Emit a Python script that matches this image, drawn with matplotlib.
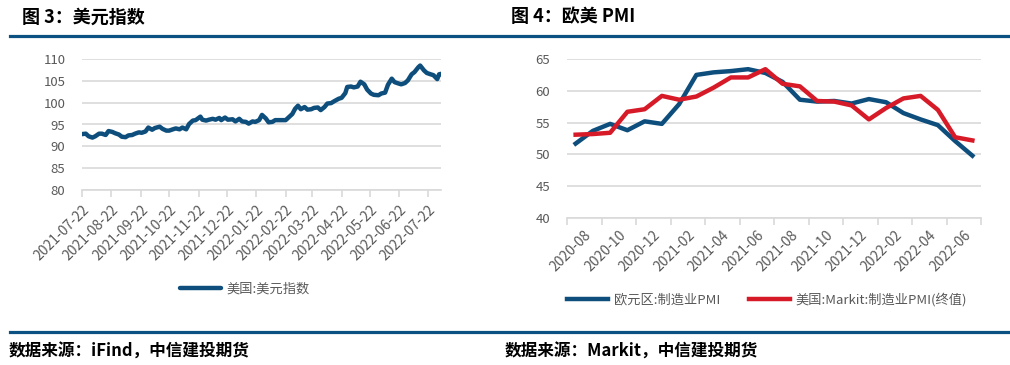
import matplotlib
matplotlib.use("Agg")
import matplotlib.pyplot as plt
from matplotlib.lines import Line2D
import pandas as pd

plt.rcParams['font.family'] = ['Noto Sans CJK SC', 'DejaVu Sans']
plt.rcParams['axes.unicode_minus'] = False

# ---- data: 美元指数 (left) ----
dxy_dates = [
    "2021-07-22", "2021-07-26", "2021-07-29", "2021-08-02", "2021-08-05", "2021-08-09",
    "2021-08-12", "2021-08-16", "2021-08-19", "2021-08-23", "2021-08-26", "2021-08-30",
    "2021-09-02", "2021-09-06", "2021-09-09", "2021-09-13", "2021-09-16", "2021-09-20",
    "2021-09-23", "2021-09-27", "2021-09-30", "2021-10-04", "2021-10-07", "2021-10-12",
    "2021-10-15", "2021-10-19", "2021-10-22", "2021-10-26", "2021-10-29", "2021-11-02",
    "2021-11-05", "2021-11-09", "2021-11-12", "2021-11-16", "2021-11-19", "2021-11-24",
    "2021-11-26", "2021-11-30", "2021-12-03", "2021-12-07", "2021-12-10", "2021-12-14",
    "2021-12-16", "2021-12-20", "2021-12-23", "2021-12-28", "2021-12-31", "2022-01-04",
    "2022-01-07", "2022-01-11", "2022-01-14", "2022-01-18", "2022-01-21", "2022-01-25",
    "2022-01-28", "2022-02-01", "2022-02-04", "2022-02-08", "2022-02-11", "2022-02-15",
    "2022-02-18", "2022-02-22", "2022-02-25", "2022-03-01", "2022-03-04", "2022-03-07",
    "2022-03-10", "2022-03-14", "2022-03-17", "2022-03-21", "2022-03-24", "2022-03-28",
    "2022-03-31", "2022-04-04", "2022-04-07", "2022-04-11", "2022-04-14", "2022-04-19",
    "2022-04-22", "2022-04-26", "2022-04-28", "2022-05-02", "2022-05-05", "2022-05-09",
    "2022-05-12", "2022-05-16", "2022-05-19", "2022-05-23", "2022-05-26", "2022-05-31",
    "2022-06-03", "2022-06-07", "2022-06-10", "2022-06-14", "2022-06-17", "2022-06-21",
    "2022-06-24", "2022-06-28", "2022-07-01", "2022-07-05", "2022-07-08", "2022-07-12",
    "2022-07-14", "2022-07-18", "2022-07-21", "2022-07-25", "2022-07-28", "2022-08-01",
    "2022-08-03", "2022-08-05",
]
dxy_values = [
    92.8, 92.9, 92.3, 92.0, 92.3, 92.9,
    92.9, 92.6, 93.5, 93.3, 93.0, 92.7,
    92.2, 92.1, 92.5, 92.6, 92.9, 93.2,
    93.1, 93.4, 94.3, 93.8, 94.2, 94.5,
    94.0, 93.6, 93.6, 93.9, 94.1, 93.9,
    94.3, 93.9, 95.1, 95.9, 96.0, 96.8,
    96.1, 95.9, 96.1, 96.3, 96.1, 96.5,
    96.0, 96.6, 96.1, 96.2, 95.7, 96.3,
    95.7, 95.6, 95.2, 95.7, 95.6, 96.0,
    97.2, 96.4, 95.5, 95.6, 96.0, 96.0,
    96.0, 96.0, 96.6, 97.4, 98.6, 99.3,
    98.5, 99.0, 98.4, 98.5, 98.8, 98.9,
    98.3, 99.0, 99.8, 99.9, 100.3, 100.9,
    101.1, 102.2, 103.6, 103.7, 103.5, 103.7,
    104.8, 104.2, 103.0, 102.1, 101.8, 101.7,
    102.1, 102.3, 104.1, 105.5, 104.7, 104.4,
    104.2, 104.5, 105.1, 106.5, 107.0, 108.1,
    108.5, 107.4, 106.8, 106.5, 106.3, 105.4,
    106.5, 106.6,
]
dxy_ticks = ["2021-07-22", "2021-08-22", "2021-09-22", "2021-10-22", "2021-11-22",
             "2021-12-22", "2022-01-22", "2022-02-22", "2022-03-22", "2022-04-22",
             "2022-05-22", "2022-06-22", "2022-07-22"]

# ---- data: 欧美 PMI (right) ----
pmi_months = ["2020-08", "2020-09", "2020-10", "2020-11", "2020-12", "2021-01",
              "2021-02", "2021-03", "2021-04", "2021-05", "2021-06", "2021-07",
              "2021-08", "2021-09", "2021-10", "2021-11", "2021-12", "2022-01",
              "2022-02", "2022-03", "2022-04", "2022-05", "2022-06", "2022-07"]
ez_pmi = [51.7, 53.7, 54.8, 53.8, 55.2, 54.8, 57.9, 62.5, 62.9, 63.1, 63.4, 62.8,
          61.4, 58.6, 58.3, 58.4, 58.0, 58.7, 58.2, 56.5, 55.5, 54.6, 52.1, 49.8]
us_pmi = [53.1, 53.2, 53.4, 56.7, 57.1, 59.2, 58.6, 59.1, 60.5, 62.1, 62.1, 63.4,
          61.1, 60.7, 58.4, 58.3, 57.7, 55.5, 57.3, 58.8, 59.2, 57.0, 52.7, 52.2]

BLUE = '#0E4E7C'
RED = '#D71A28'
GRID = '#D9D9D9'
TXT = '#595959'
BAR = '#0B5283'

W, H = 1010, 365
fig = plt.figure(figsize=(W / 100, H / 100), dpi=100)


def fx(px):
    return px / W


def fy(py):
    return 1 - py / H


# headers and footers
fig.add_artist(Line2D([fx(10), fx(1008)], [fy(36.3)] * 2, color=BAR, lw=2.3))
fig.add_artist(Line2D([fx(10), fx(1008)], [fy(331.5)] * 2, color=BAR, lw=2.3))
fig.text(fx(22), fy(17), '图 3：美元指数', fontsize=13, fontweight='bold', va='center', ha='left')
fig.text(fx(511), fy(17), '图 4：欧美 PMI', fontsize=13, fontweight='bold', va='center', ha='left')
fig.text(fx(9), fy(352), '数据来源：iFind，中信建投期货', fontsize=12, fontweight='bold',
         va='center', ha='left')
fig.text(fx(505), fy(352), '数据来源：Markit，中信建投期货', fontsize=12, fontweight='bold',
         va='center', ha='left')


def style_axes(ax):
    for s in ['top', 'right', 'left']:
        ax.spines[s].set_visible(False)
    ax.spines['bottom'].set_color(GRID)
    ax.spines['bottom'].set_linewidth(1.2)
    ax.grid(axis='y', color=GRID, lw=1.2)
    ax.set_axisbelow(True)
    ax.tick_params(axis='y', length=0, labelsize=9.5, labelcolor=TXT, pad=12)
    ax.tick_params(axis='x', which='major', length=5, width=1.2, color=GRID,
                   labelsize=10, labelcolor=TXT)


# ---- left chart ----
ax1 = fig.add_axes([fx(82), fy(190), fx(441 - 82), fy(59) - fy(190)])
d = pd.to_datetime(dxy_dates)
ax1.plot(d, dxy_values, color=BLUE, lw=3.2, solid_joinstyle='round', solid_capstyle='round',
         label='美国:美元指数')
ax1.set_ylim(80, 110)
ax1.set_yticks(range(80, 111, 5))
ax1.set_xlim(d[0], d[-1])
ax1.set_xticks(pd.to_datetime(dxy_ticks))
ax1.set_xticklabels(dxy_ticks, rotation=45, ha='right', rotation_mode='anchor')
style_axes(ax1)
ax1.tick_params(axis='x', pad=4)
ax1.legend(loc='center', bbox_to_anchor=(fx(245), fy(289)), bbox_transform=fig.transFigure,
           frameon=False, fontsize=9.5, labelcolor=TXT, handlelength=3.1, handletextpad=0.4)

# ---- right chart ----
ax2 = fig.add_axes([fx(567), fy(218), fx(981 - 567), fy(59) - fy(218)])
xs = list(range(len(pmi_months)))
ax2.plot(xs, ez_pmi, color=BLUE, lw=3.2, solid_joinstyle='round', label='欧元区:制造业PMI')
ax2.plot(xs, us_pmi, color=RED, lw=3.2, solid_joinstyle='round', label='美国:Markit:制造业PMI(终值)')
ax2.set_ylim(40, 65)
ax2.set_yticks(range(40, 66, 5))
ax2.set_xlim(-0.5, len(pmi_months) - 0.5)
ax2.set_xticks([i - 0.5 for i in range(0, len(pmi_months) + 1, 2)])
ax2.set_xticklabels([])
ax2.set_xticks([i + 0.5 for i in range(0, len(pmi_months), 2)], minor=True)
ax2.set_xticklabels(pmi_months[0::2], minor=True, rotation=45, ha='right', rotation_mode='anchor')
style_axes(ax2)
ax2.tick_params(axis='x', which='minor', length=0, labelsize=10, labelcolor=TXT, pad=7)
ax2.legend(loc='center', bbox_to_anchor=(fx(767), fy(300)), bbox_transform=fig.transFigure,
           frameon=False, fontsize=9.5, labelcolor=TXT, ncol=2, handlelength=3.1,
           handletextpad=0.4, columnspacing=2.2)

fig.savefig('out.png', dpi=100)
